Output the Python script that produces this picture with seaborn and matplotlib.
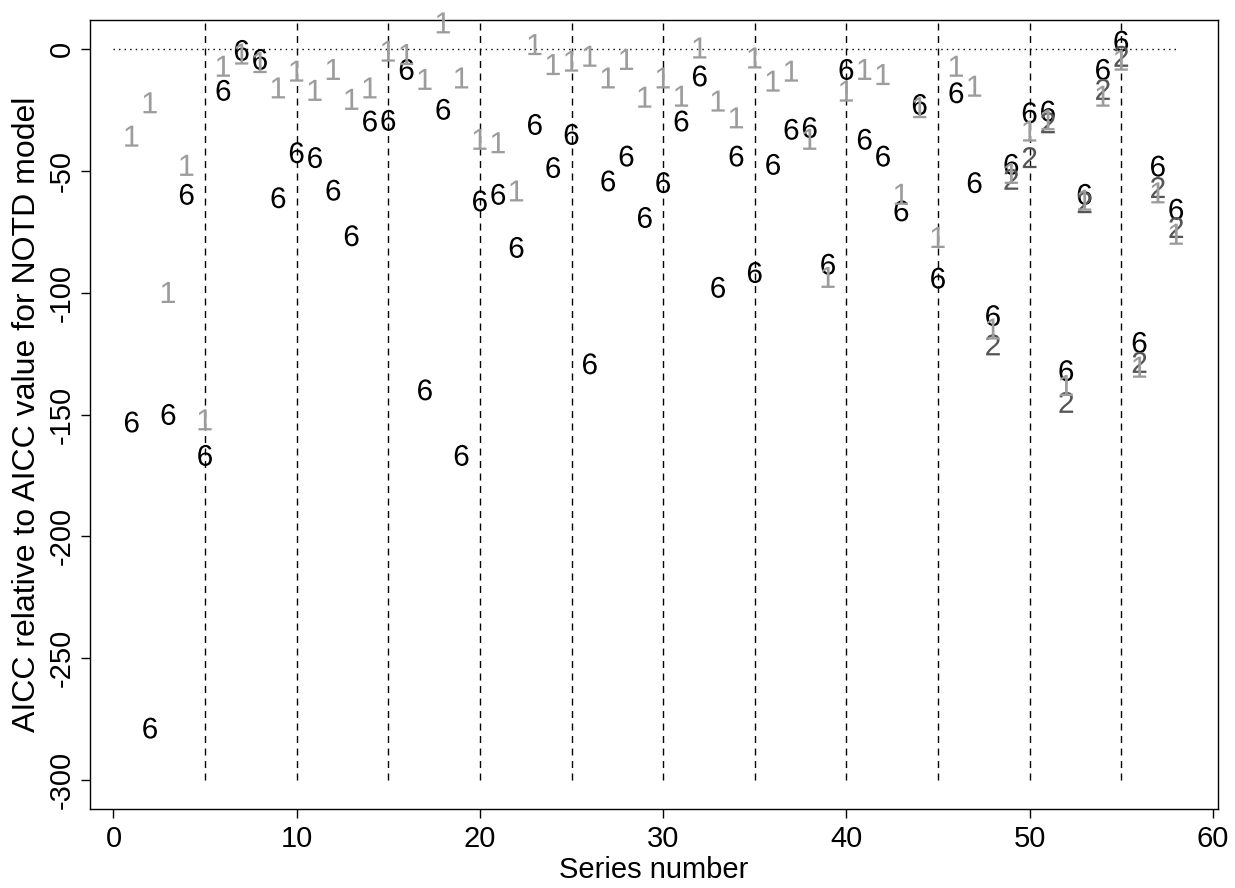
import numpy as np
import pandas as pd
import matplotlib
matplotlib.use('Agg')
import matplotlib.pyplot as plt
import seaborn as sns

sns.set_style('white')
plt.rcParams['font.family'] = ['Liberation Sans', 'DejaVu Sans']
plt.rcParams['mathtext.fontset'] = 'custom'
plt.rcParams['mathtext.rm'] = 'Liberation Sans'
plt.rcParams['mathtext.default'] = 'regular'
plt.rcParams['text.color'] = 'black'
plt.rcParams['axes.labelcolor'] = 'black'
plt.rcParams['xtick.color'] = 'black'
plt.rcParams['ytick.color'] = 'black'

# AICC relative to NOTD
series = np.arange(1, 59)
aicc_6 = [-153.1, -278.8, -150.0, -59.6, -166.8, -16.9, -0.5, -4.2, -61.0, -42.5,
          -44.5, -57.9, -76.6, -29.5, -29.2, -8.3, -139.9, -24.7, -166.8, -62.3,
          -59.6, -81.4, -30.9, -48.6, -35.0, -129.2, -54.1, -43.9, -69.1, -54.8,
          -29.5, -11.0, -97.8, -43.9, -91.7, -47.3, -32.9, -32.2, -88.3, -8.3,
          -37.0, -43.9, -66.4, -22.7, -94.0, -17.9, -54.8, -109.4, -47.3, -26.1,
          -25.4, -132.0, -59.6, -8.3, 3.3, -120.4, -48.0, -65.7]
aicc_1 = [-35.7, -22.0, -99.9, -47.7, -152.2, -7.0, -2.0, -5.5, -15.9, -9.0,
          -16.9, -8.3, -20.6, -15.9, -0.8, -2.2, -12.4, 10.8, -11.8, -37.0,
          -38.4, -58.2, 1.9, -6.3, -4.9, -2.9, -11.8, -4.2, -19.7, -11.8,
          -19.3, 0.5, -21.3, -28.2, -3.6, -13.1, -9.0, -37.0, -93.7, -17.2,
          -8.3, -10.4, -59.6, -24.0, -77.3, -7.0, -15.2, -114.9, -51.0, -33.6,
          -29.0, -138.1, -62.0, -19.3, -4.5, -130.6, -59.0, -76.0]
series_2 = np.arange(48, 59)
aicc_2 = [-121.4, -53.4, -44.5, -30.2, -145.0, -63.0, -16.5, -2.9, -128.6, -56.8, -73.2]

df = pd.concat([
    pd.DataFrame({'series': series, 'aicc': aicc_6, 'model': '6'}),
    pd.DataFrame({'series': series_2, 'aicc': aicc_2, 'model': '2'}),
    pd.DataFrame({'series': series, 'aicc': aicc_1, 'model': '1'}),
], ignore_index=True)

colors = {'6': 'black', '2': '#555555', '1': '#9c9c9c'}
markers = {'6': '$6$', '2': '$2$', '1': '$1$'}

fig = plt.figure(figsize=(12.35, 8.88), dpi=100)
ax = fig.add_axes([90 / 1235, 1 - 809 / 888, 1128 / 1235, 789 / 888])

# reference lines
for xv in range(5, 60, 5):
    ax.plot([xv, xv], [-300, max(aicc_1)], color='black', lw=1, ls=(0, (5, 4)), zorder=1)
ax.plot([0, 58], [0, 0], color='black', lw=1, ls=(0, (1, 3)), zorder=1)

sns.scatterplot(data=df, x='series', y='aicc', hue='model', style='model',
                palette=colors, markers=markers, s=230, linewidth=0,
                legend=False, ax=ax, zorder=3, clip_on=False)

ax.set_xlim(-1.28, 60.28)
ax.set_ylim(-312, 12)
ax.set_xticks(range(0, 61, 10))
ax.set_yticks(range(-300, 1, 50))
ax.set_yticklabels([str(v) for v in range(-300, 1, 50)], rotation=90, va='center')
ax.tick_params(axis='both', direction='out', length=6.5, width=1, labelsize=21,
               left=True, bottom=True, color='black', labelcolor='black')
ax.tick_params(axis='y', pad=4)
ax.tick_params(axis='x', pad=5)
for sp in ax.spines.values():
    sp.set_color('black')
    sp.set_linewidth(1)

ax.set_xlabel('Series number', fontsize=21, labelpad=2)
ax.set_ylabel('AICC relative to AICC value for NOTD model', fontsize=23, labelpad=4)

fig.savefig('out.png', dpi=100)
